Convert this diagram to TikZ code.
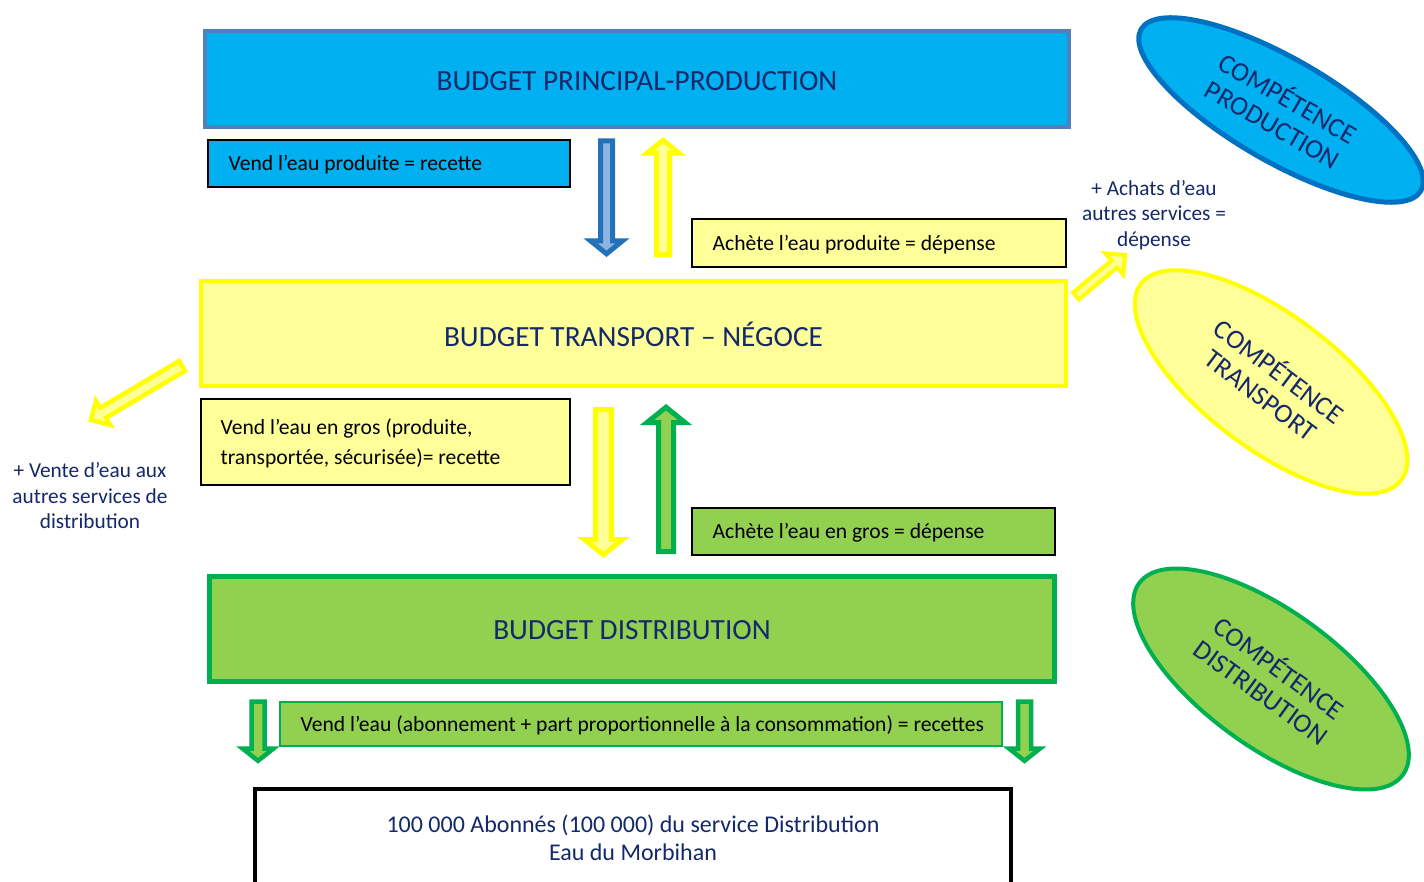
\documentclass[tikz,border=0pt]{standalone}
\usepackage{fontspec}
\setmainfont{Carlito}
\usetikzlibrary{calc,shapes.geometric}
\definecolor{cyanfill}{HTML}{00B0F0}
\definecolor{topborder}{HTML}{4F81BD}
\definecolor{prodborder}{HTML}{0070C0}
\definecolor{yelfill}{HTML}{FFFF99}
\definecolor{yelline}{HTML}{FFFF00}
\definecolor{grnfill}{HTML}{92D050}
\definecolor{grnline}{HTML}{00B050}
\definecolor{bluearrline}{HTML}{2372B9}
\definecolor{bluearrfill}{HTML}{8DB4E2}
\definecolor{navy}{HTML}{14296B}
\newcommand\fmain{\fontsize{29.3}{34}\selectfont}
\newcommand\fell{\fontsize{27}{30}\selectfont}
\newcommand\flab{\fontsize{21.6}{30}\selectfont}
\newcommand\fside{\fontsize{21.3}{25.5}\selectfont}
% style, from, to, shaft half width, head half width, head length
\newcommand\blockarrow[6]{%
  \coordinate (hb) at ($(#3)!#6!(#2)$);
  \filldraw[#1] ($(#2)!#4!90:(#3)$) -- ($(hb)!#4!90:(#3)$) -- ($(hb)!#5!90:(#3)$)
    -- (#3) -- ($(hb)!#5!-90:(#3)$) -- ($(hb)!#4!-90:(#3)$) -- ($(#2)!#4!-90:(#3)$) -- cycle;
}
\tikzset{
  bigbox/.style={rectangle, align=center, text=navy, font=\fmain, inner sep=0pt},
  labbox/.style={rectangle, draw=black, line width=1.1pt, inner sep=0pt},
  labtext/.style={anchor=west, align=left, text=black, font=\flab, inner sep=0pt},
  sidetext/.style={align=center, text=navy, font=\fside, inner sep=0pt},
  compell/.style={ellipse, align=center, text=navy, font=\fell, inner sep=0pt},
  yarrow/.style={draw=yelline, fill=yelfill, line width=5pt, line join=miter},
  garrow/.style={draw=grnline, fill=grnfill, line width=5pt, line join=miter},
  barrow/.style={draw=bluearrline, fill=bluearrfill, line width=5pt, line join=miter},
}
\begin{document}
\begin{tikzpicture}[x=1pt, y=1pt]
\useasboundingbox (0,0) rectangle (1424,-882);
\fill[white] (0,0) rectangle (1424,-882);

% main budget boxes
\node[bigbox, fill=cyanfill, draw=topborder, line width=4pt, minimum width=864pt, minimum height=96pt] (bp) at (637,-79) {};
\node[bigbox] (bpt) at (637,-81) {BUDGET PRINCIPAL-PRODUCTION};
\node[bigbox, fill=yelfill, draw=yelline, line width=4pt, minimum width=865pt, minimum height=105pt] (bt) at (633.5,-333.5) {};
\node[bigbox] (btt) at (633.5,-334) {BUDGET TRANSPORT -- NÉGOCE};
\node[bigbox, fill=grnfill, draw=grnline, line width=5pt, minimum width=845pt, minimum height=105pt] (bd) at (632,-629) {};
\node[bigbox] (bdt) at (632,-630) {BUDGET DISTRIBUTION};
\node[rectangle, draw=black, fill=white, line width=4pt, minimum width=756pt, minimum height=111pt] (ab) at (633,-844.5) {};
\node[sidetext, font=\fontsize{24}{28}\selectfont] (abt) at (633,-838) {100 000 Abonnés (100 000) du service Distribution\\Eau du Morbihan};

% label boxes
\node[labbox, fill=cyanfill, minimum width=362pt, minimum height=47pt] (l1) at (389,-163.5) {};
\node[labtext] (l1t) at ($(l1.west)+(21,-1.5)$) {Vend l’eau produite = recette};
\node[labbox, fill=yelfill, minimum width=374pt, minimum height=48pt] (l2) at (879,-243) {};
\node[labtext] (l2t) at ($(l2.west)+(21,-1.5)$) {Achète l’eau produite = dépense};
\node[labbox, fill=yelfill, minimum width=369pt, minimum height=86pt] (l3) at (385.5,-442) {};
\node[labtext] (l3t) at ($(l3.west)+(20,-1.5)$) {Vend l’eau en gros (produite,\\transportée, sécurisée)= recette};
\node[labbox, fill=grnfill, minimum width=363pt, minimum height=47pt] (l4) at (873.5,-531.5) {};
\node[labtext] (l4t) at ($(l4.west)+(21,-1.5)$) {Achète l’eau en gros = dépense};
\node[labbox, draw=grnline, fill=grnfill, minimum width=722pt, minimum height=44pt] (l5) at (641,-724) {};
\node[labtext] (l5t) at ($(l5.west)+(21,-1.5)$) {Vend l’eau (abonnement + part proportionnelle à la consommation) = recettes};

% side texts
\node[sidetext] (achats) at (1154,-215) {+ Achats d’eau\\autres services =\\dépense};
\node[sidetext] (vente) at (90,-496) {+ Vente d’eau aux\\autres services de\\distribution};

% competence ellipses
\node[compell, fill=cyanfill, draw=prodborder, line width=5pt, minimum width=323pt, minimum height=103pt, rotate=-30] (cp) at (1281,-110) {COMPÉTENCE\\PRODUCTION};
\node[compell, fill=yelfill, draw=yelline, line width=4pt, minimum width=326pt, minimum height=134pt, rotate=-37] (ct) at (1271,-382) {COMPÉTENCE\\TRANSPORT};
\node[compell, fill=grnfill, draw=grnline, line width=4pt, minimum width=326pt, minimum height=136pt, rotate=-36] (cd) at (1271,-679) {COMPÉTENCE\\DISTRIBUTION};

% arrow end points
\coordinate (a1s) at (606.5,-141);
\coordinate (a1e) at (606.5,-253.8);
\coordinate (a2s) at (663,-254.5);
\coordinate (a2e) at (663,-140.2);
\coordinate (a3s) at (603.5,-409.5);
\coordinate (a3e) at (603.5,-554.8);
\coordinate (a4s) at (666,-551.5);
\coordinate (a4e) at (666,-407.2);
\coordinate (a5s) at (258,-701.5);
\coordinate (a5e) at (258,-760.8);
\coordinate (a6s) at (1024.5,-701.5);
\coordinate (a6e) at (1024.5,-760.8);
\coordinate (a7s) at (182,-366);
\coordinate (a7e) at (91,-420);
\coordinate (a8s) at (1076,-296);
\coordinate (a8e) at (1125,-255);

% block arrows
\blockarrow{barrow}{a1s}{a1e}{6pt}{16pt}{13pt}
\blockarrow{yarrow}{a2s}{a2e}{6.5pt}{16pt}{13pt}
\blockarrow{yarrow}{a3s}{a3e}{8pt}{19pt}{15.3pt}
\blockarrow{garrow}{a4s}{a4e}{7.5pt}{19pt}{15.3pt}
\blockarrow{garrow, line width=4.5pt}{a5s}{a5e}{6.5pt}{15.5pt}{12.3pt}
\blockarrow{garrow, line width=4.5pt}{a6s}{a6e}{6.5pt}{15.5pt}{12.3pt}
\blockarrow{yarrow, line width=4.5pt}{a7s}{a7e}{5.75pt}{14pt}{14pt}
\blockarrow{yarrow, line width=4pt}{a8s}{a8e}{4.5pt}{14pt}{14pt}
\end{tikzpicture}
\end{document}
